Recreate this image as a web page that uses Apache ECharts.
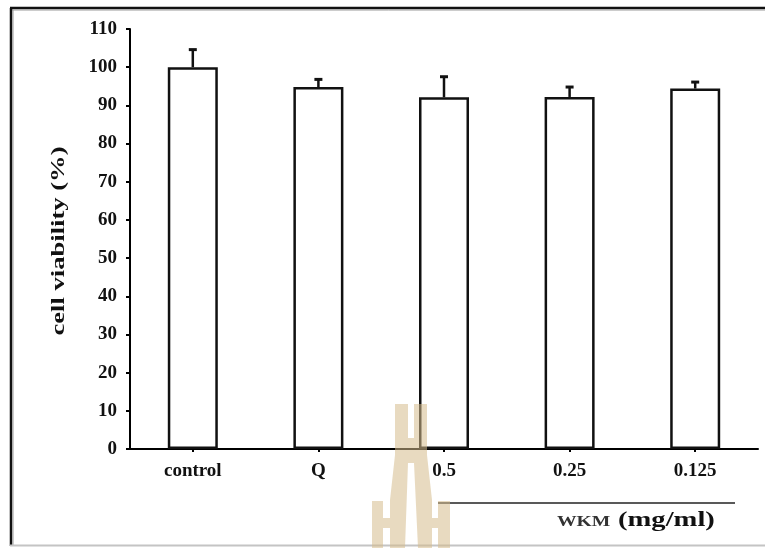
<!DOCTYPE html>
<html><head><meta charset="utf-8">
<script src="https://cdn.jsdelivr.net/npm/echarts@6/dist/echarts.min.js"></script>
<style>html,body{margin:0;padding:0;background:#fff}#c{width:765px;height:548px}</style>
</head><body><div id="c"></div>
<script>
const categories = ['control', 'Q', '0.5', '0.25', '0.125'];
const viability = [100, 94.8, 92.1, 92.2, 94.4];
const errorSD = [4.6, 2.0, 5.4, 2.6, 1.7];
const yAxisTitle = 'cell viability (%)';
const groupLabelA = 'WKM';
const groupLabelB = '(mg/ml)';

const SERIF = "'Liberation Serif','Times New Roman',serif";
const chart = echarts.init(document.getElementById('c'), null, {renderer: 'canvas'});
const wm = 'rgba(214,188,140,0.55)';

chart.setOption({
  animation: false,
  backgroundColor: '#fff',
  grid: {left: 130, right: 7, top: 29, bottom: 99, containLabel: false},
  xAxis: {
    type: 'category', data: categories, boundaryGap: true,
    axisLine: {lineStyle: {color: '#000', width: 2}},
    axisTick: {show: true, alignWithLabel: true, length: 3, lineStyle: {color: '#000', width: 2}},
    axisLabel: {color: '#111', fontFamily: SERIF, fontWeight: 'bold', fontSize: 19, margin: 13}
  },
  yAxis: {
    type: 'value', min: 0, max: 110, interval: 10,
    splitLine: {show: false},
    axisLine: {show: true, lineStyle: {color: '#000', width: 2}},
    axisTick: {show: true, length: 4, lineStyle: {color: '#000', width: 2}},
    axisLabel: {color: '#111', fontFamily: SERIF, fontWeight: 'bold', fontSize: 19, margin: 13}
  },
  series: [
    {
      type: 'bar', data: viability, barWidth: 50,
      itemStyle: {color: '#fff', borderColor: '#111', borderWidth: 2.5},
      z: 2
    },
    {
      type: 'custom', z: 3,
      data: viability.map((v, i) => [i, v, v + errorSD[i]]),
      renderItem: function (params, api) {
        const p0 = api.coord([api.value(0), api.value(1)]);
        const p1 = api.coord([api.value(0), api.value(2)]);
        return {
          type: 'group',
          children: [
            {type: 'line', shape: {x1: p0[0], y1: p0[1], x2: p1[0], y2: p1[1]}, style: {stroke: '#111', lineWidth: 2.5}},
            {type: 'line', shape: {x1: p1[0] - 4, y1: p1[1], x2: p1[0] + 4, y2: p1[1]}, style: {stroke: '#111', lineWidth: 3}}
          ]
        };
      }
    }
  ],
  graphic: [
    // frame
    {type: 'line', shape: {x1: 10, y1: 8, x2: 765, y2: 8}, style: {stroke: '#111', lineWidth: 2.5}, z: 10},
    {type: 'line', shape: {x1: 12, y1: 10, x2: 765, y2: 10}, style: {stroke: '#999', lineWidth: 1}, z: 10},
    {type: 'line', shape: {x1: 11, y1: 8, x2: 11, y2: 546}, style: {stroke: '#111', lineWidth: 2.5}, z: 10},
    {type: 'line', shape: {x1: 13, y1: 10, x2: 13, y2: 546}, style: {stroke: '#999', lineWidth: 1}, z: 10},
    {type: 'line', shape: {x1: 10, y1: 545.5, x2: 765, y2: 545.5}, style: {stroke: '#c4c4c4', lineWidth: 2}, z: 10},
    // y axis title
    {type: 'text', x: 59, y: 241, rotation: Math.PI / 2, scaleX: 1.4, z: 10,
      style: {text: yAxisTitle, font: 'bold 19px ' + SERIF, fill: '#111', textAlign: 'center', textVerticalAlign: 'middle'}},
    // group line and label
    {type: 'line', shape: {x1: 438, y1: 503, x2: 735, y2: 503}, style: {stroke: '#222', lineWidth: 1.5}, z: 10},
    {type: 'text', x: 557, y: 522, scaleX: 1.4, z: 10,
      style: {text: groupLabelA, font: 'bold 14px ' + SERIF, fill: '#333', textAlign: 'left', textVerticalAlign: 'middle'}},
    {type: 'text', x: 618, y: 520, scaleX: 1.3, z: 10,
      style: {text: groupLabelB, font: 'bold 22px ' + SERIF, fill: '#111', textAlign: 'left', textVerticalAlign: 'middle'}},
    // watermark
    {type: 'polygon', z: 20, shape: {points: [[395,404],[408,404],[408,463],[405,548],[390,548],[390,500],[395,455]]}, style: {fill: wm}},
    {type: 'polygon', z: 20, shape: {points: [[414,404],[427,404],[427,455],[432,500],[432,548],[418,548],[414,463]]}, style: {fill: wm}},
    {type: 'rect', z: 20, shape: {x: 408, y: 438, width: 6, height: 25}, style: {fill: wm}},
    {type: 'rect', z: 20, shape: {x: 372, y: 501, width: 11, height: 47}, style: {fill: wm}},
    {type: 'rect', z: 20, shape: {x: 383, y: 518, width: 7, height: 10}, style: {fill: wm}},
    {type: 'rect', z: 20, shape: {x: 432, y: 518, width: 6, height: 10}, style: {fill: wm}},
    {type: 'rect', z: 20, shape: {x: 438, y: 501, width: 12, height: 47}, style: {fill: wm}}
  ]
});
</script>
</body></html>
